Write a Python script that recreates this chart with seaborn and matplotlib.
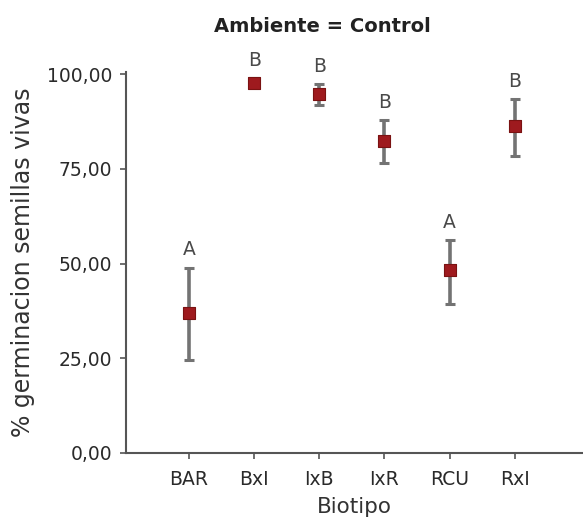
import numpy as np
import pandas as pd
import matplotlib
matplotlib.use("Agg")
import matplotlib.pyplot as plt
import seaborn as sns

# Data
biotipo = ["BAR", "BxI", "IxB", "IxR", "RCU", "RxI"]
media = [37.0, 97.7, 94.7, 82.3, 48.2, 86.4]
superior = [48.9, 98.9, 97.3, 87.8, 56.2, 93.4]
inferior = [24.6, 96.5, 91.8, 76.5, 39.4, 78.4]
letras = ["A", "B", "B", "B", "A", "B"]
y_ticks = [0, 25, 50, 75, 100]
y_tick_labels = ["0,00", "25,00", "50,00", "75,00", "100,00"]

df = pd.DataFrame({"Biotipo": biotipo, "media": media,
                   "sup": superior, "inf": inferior, "letra": letras})

sns.set_theme(style="ticks")
plt.rcParams["font.family"] = ["DejaVu Sans"]

fig = plt.figure(figsize=(5.83, 5.20), dpi=100)
ax = fig.add_axes([0.216, 0.129, 0.784, 0.732])

yerr = np.array([df["media"] - df["inf"], df["sup"] - df["media"]])
ax.errorbar(df["Biotipo"], df["media"], yerr=yerr, fmt="none",
            ecolor="#737373", elinewidth=2.6, capsize=3.5, capthick=2.2, zorder=2)
sns.scatterplot(data=df, x="Biotipo", y="media", marker="s", s=70,
                color="#9e1a1e", edgecolor="#7a1212", linewidth=0.8,
                ax=ax, zorder=3, clip_on=False)

for b, hi, l in zip(df["Biotipo"], df["sup"], df["letra"]):
    ax.annotate(l, (b, hi), xytext=(0, 6), textcoords="offset points",
                ha="center", va="bottom", fontsize=13.5, color="#4a4a4a",
                annotation_clip=False)

ax.set_xlim(-0.97, 6.05)
ax.set_ylim(0, 100.5)
ax.set_yticks(y_ticks)
ax.set_yticklabels(y_tick_labels)
ax.tick_params(axis="both", labelsize=13.5, colors="#2a2a2a", length=4,
               width=1.2, color="#555555")
ax.tick_params(axis="x", pad=8)
ax.tick_params(axis="y", pad=6)
for s in ["top", "right"]:
    ax.spines[s].set_visible(False)
for s in ["left", "bottom"]:
    ax.spines[s].set_color("#555555")
    ax.spines[s].set_linewidth(1.5)

ax.set_xlabel("Biotipo", fontsize=15.5, color="#333333", labelpad=6)
ax.set_ylabel("% germinacion semillas vivas", fontsize=17, color="#333333")
ax.yaxis.set_label_coords(-0.199, 0.5)
fig.text(0.553, 0.950, "Ambiente = Control", ha="center", va="center",
         fontsize=14, fontweight="bold", color="#222222")

fig.savefig("out.png", dpi=100)
